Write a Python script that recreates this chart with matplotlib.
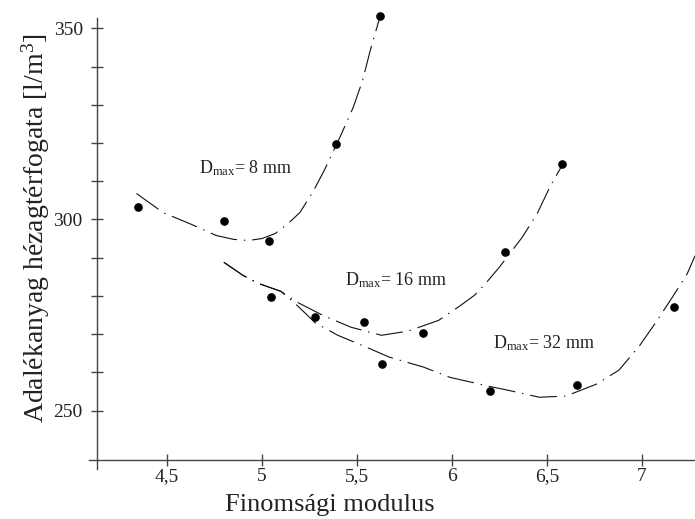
import numpy as np
import matplotlib
matplotlib.use('Agg')
import matplotlib.pyplot as plt

plt.rcParams['font.family'] = 'Liberation Serif'
plt.rcParams['mathtext.fontset'] = 'custom'
plt.rcParams['mathtext.rm'] = 'Liberation Serif'
plt.rcParams['mathtext.it'] = 'Liberation Serif:italic'
plt.rcParams['lines.scale_dashes'] = False

# measured points
x_8 = [4.35, 4.80, 5.04, 5.39, 5.62]
y_8 = [303.2, 299.5, 294.3, 319.8, 353.3]
x_16 = [5.05, 5.28, 5.54, 5.85, 6.28, 6.58]
y_16 = [279.6, 274.4, 273.1, 270.2, 291.4, 314.6]
x_32 = [5.63, 6.20, 6.66, 7.17]
y_32 = [262.1, 255.1, 256.7, 277.0]

# fitted curves
cx_8 = [4.34, 4.48, 4.63, 4.76, 4.85, 4.93, 5.00, 5.07, 5.14, 5.20, 5.27, 5.33, 5.41, 5.48, 5.53, 5.57, 5.62]
cy_8 = [306.8, 301.8, 298.7, 295.8, 294.8, 294.5, 295.0, 296.3, 299.0, 301.8, 307.3, 313.0, 321.4, 329.2, 336.3, 344.1, 352.7]
cx_16 = [4.80, 4.90, 4.98, 5.10, 5.18, 5.33, 5.47, 5.63, 5.77, 5.93, 6.04, 6.12, 6.17, 6.25, 6.37, 6.45, 6.52, 6.58]
cy_16 = [288.8, 285.4, 283.3, 281.2, 278.5, 274.7, 271.8, 269.7, 270.8, 273.6, 277.3, 280.2, 282.8, 287.5, 295.3, 301.6, 308.9, 314.1]
cx_32 = [4.80, 4.90, 4.98, 5.10, 5.18, 5.28, 5.40, 5.55, 5.67, 5.85, 5.99, 6.22, 6.29, 6.46, 6.60, 6.76, 6.88, 6.99, 7.07, 7.16, 7.24, 7.28]
cy_32 = [288.8, 285.4, 283.3, 281.2, 277.8, 273.0, 269.7, 266.6, 264.0, 261.4, 258.7, 256.1, 255.4, 253.5, 253.8, 256.9, 260.6, 267.1, 272.8, 279.6, 285.9, 290.5]

xticks = [4.5, 5, 5.5, 6, 6.5, 7]
xticklabels = ['4,5', '5', '5,5', '6', '6,5', '7']
yticks = [250, 300, 350]
yminor = [260, 270, 280, 290, 310, 320, 330, 340]

fig = plt.figure(figsize=(6.95, 5.19), dpi=100)
ax = fig.add_axes([0.128, 0.0954, 0.872, 0.881])
ax.set_xlim(4.09, 7.28)
ax.set_ylim(234.6, 354.2)

dash = (0, (19.5, 5, 1, 5))
for cx, cy in [(cx_8, cy_8), (cx_16, cy_16), (cx_32, cy_32)]:
    ax.plot(cx, cy, color='#111111', lw=0.8, linestyle=dash)
for px, py in [(x_8, y_8), (x_16, y_16), (x_32, y_32)]:
    ax.plot(px, py, 'o', color='black', ms=5.2, mec='black')

ax.text(4.668, 313.3, r'D$_{\mathrm{max}}$= 8 mm', fontsize=13, va='center', color='#222222')
ax.text(5.437, 284.0, r'D$_{\mathrm{max}}$= 16 mm', fontsize=13, va='center', color='#222222')
ax.text(6.216, 267.6, r'D$_{\mathrm{max}}$= 32 mm', fontsize=13, va='center', color='#222222')

for s in ['top', 'right']:
    ax.spines[s].set_visible(False)
ax.spines['left'].set_position(('data', 4.132))
ax.spines['bottom'].set_position(('data', 237.0))
ax.spines['left'].set_bounds(234.6, 352.6)
ax.spines['bottom'].set_bounds(4.09, 7.28)
for s in ['left', 'bottom']:
    ax.spines[s].set_color('#444444')
    ax.spines[s].set_linewidth(1.0)

ax.set_xticks(xticks)
ax.set_xticklabels(xticklabels)
ax.set_yticks(yticks)
ax.set_yticks(yminor, minor=True)
ax.tick_params(axis='both', which='both', direction='inout', length=8.5, width=1.0,
               color='#444444', labelsize=14, labelcolor='#222222')
ax.tick_params(axis='y', pad=6)
ax.tick_params(axis='x', pad=1)

fig.text(0.475, 0.027, 'Finomsági modulus', fontsize=19, ha='center', va='center', color='#222222')
fig.text(0.052, 0.56, r'Adalékanyag hézagtérfogata [l/m$^3$]', fontsize=20, rotation=90,
         ha='center', va='center', color='#222222')

fig.savefig('out.png', dpi=100)
